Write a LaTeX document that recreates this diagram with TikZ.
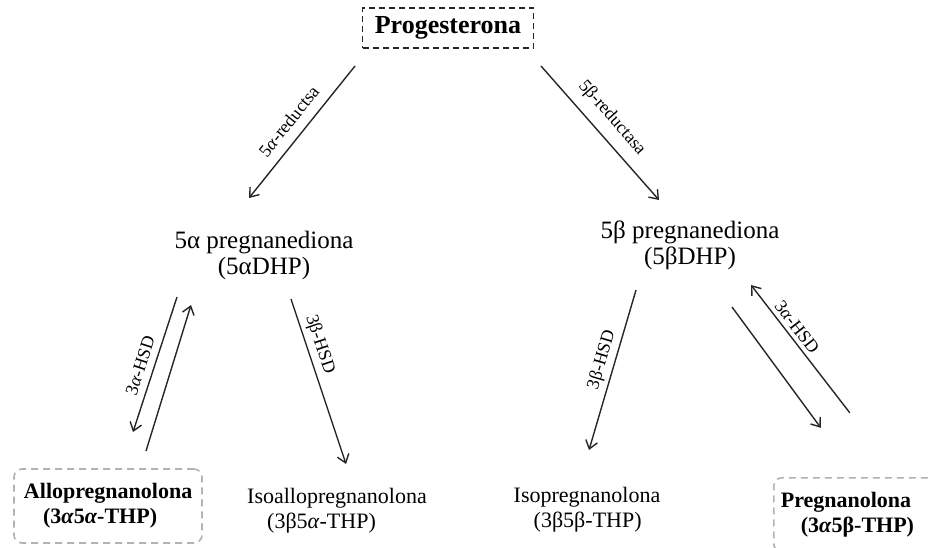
\documentclass[tikz,border=0pt]{standalone}
\usepackage{fontspec}
\setmainfont{Liberation Serif}
\usetikzlibrary{arrows.meta,positioning}
\tikzset{%
	conn/.style   = {draw=black!85, line width=0.7pt, -{Straight Barb[length=4pt,width=6pt]}},
	enz/.style    = {font=\fontsize{9}{10}\selectfont, sloped, above, inner xsep=2pt, inner ysep=2pt},
	mid/.style    = {align=center, font=\fontsize{12.5}{13}\selectfont},
	prod/.style   = {align=left, font=\fontsize{11}{12.5}\selectfont},
	keybox/.style = {align=left, draw=black!30, dash pattern=on 3.5pt off 2.5pt, line width=0.8pt, rounded corners=4pt, minimum height=37pt, font=\bfseries\fontsize{11}{12.5}\selectfont},
	topbox/.style = {draw=black!85, dash pattern=on 3pt off 2pt, line width=0.7pt, minimum width=85.5pt, minimum height=20pt, font=\bfseries\fontsize{13}{15}\selectfont},
}

\begin{document}
\begin{tikzpicture}[x=0.5pt,y=-0.5pt]
	\useasboundingbox (0,0) rectangle (929,547);
	\clip (0,0) rectangle (929,547);
	
	% substrate and intermediates
	\node[topbox] (prog) at (448,28) {Progesterona};
	\node[mid] (adhp) at (264,255) {5α pregnanediona\\(5αDHP)};
	\node[mid] (bdhp) at (690,245) {5β pregnanediona\\(5βDHP)};
	
	% end products
	\node[keybox, text width=84pt, inner xsep=5pt] (allo) at (108,506) {Allopregnanolona\\\hspace*{9.5pt}(3\textit{α}5\textit{α}-THP)};
	\node[prod] (isoallo) at (337,511) {Isoallopregnanolona\\\hspace*{10pt}(3β5\textit{α}-THP)};
	\node[prod] (iso) at (587,510) {Isopregnanolona\\\hspace*{10pt}(3β5β-THP)};
	\node[keybox, text width=80pt, inner xsep=3.5pt, anchor=north west] (preg) at (773,477) {Pregnanolona\\\hspace*{10pt}(3\textit{α}5β-THP)};
	
	% reductases
	\draw[conn] ([shift={(-93,38)}]prog.center) -- node[enz, pos=0.5, inner ysep=5pt] {5\textit{α}-reductsa} ([shift={(-15,-57)}]adhp.center);
	\draw[conn] ([shift={(93,38)}]prog.center) -- node[enz, pos=0.48, inner ysep=5pt] {5β-reductasa} ([shift={(-31,-45)}]bdhp.center);
	
	% 5alpha branch
	\draw[conn] ([shift={(-87,42)}]adhp.center) -- node[enz, pos=0.54, inner ysep=3.5pt] {3\textit{α}-HSD} ([shift={(25,-74)}]allo.center);
	\draw[conn] ([shift={(38,-55)}]allo.center) -- ([shift={(-73,50)}]adhp.center);
	\draw[conn] ([shift={(27,44)}]adhp.center) -- node[enz, pos=0.3] {3β-HSD} ([shift={(9,-47)}]isoallo.center);
	
	% 5beta branch
	\draw[conn] ([shift={(-54,45)}]bdhp.center) -- node[enz, pos=0.46] {3β-HSD} ([shift={(2,-60)}]iso.center);
	\draw[conn] ([shift={(-11,-102)}]preg.center) -- node[enz, pos=0.62] {3\textit{α}-HSD} ([shift={(61,40)}]bdhp.center);
	\draw[conn] ([shift={(42,62)}]bdhp.center) -- ([shift={(-40,-87)}]preg.center);
\end{tikzpicture}
\end{document}
